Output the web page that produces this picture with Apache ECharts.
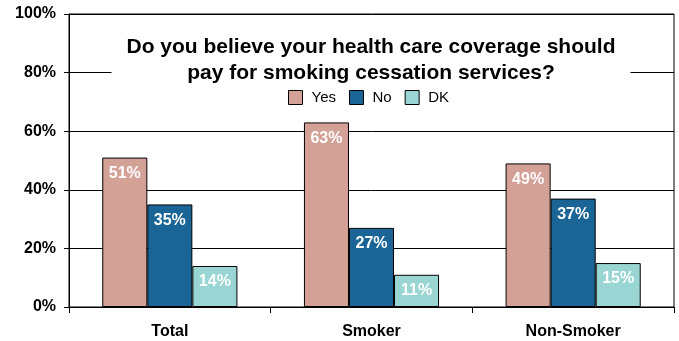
<!DOCTYPE html>
<html>
<head>
<meta charset="utf-8">
<script src="https://cdn.jsdelivr.net/npm/echarts@6/dist/echarts.min.js"></script>
<style>
  html, body { margin: 0; padding: 0; background: #fff; }
  #chart { width: 679px; height: 341px; }
</style>
</head>
<body>
<div id="chart"></div>
<script>
const categories = ['Total', 'Smoker', 'Non-Smoker'];
const yesValues = [51, 63, 49];
const noValues = [35, 27, 37];
const dkValues = [14, 11, 15];
const yTicks = [0, 20, 40, 60, 80, 100];

const fontFamily = '"Liberation Sans", Arial, sans-serif';

const chart = echarts.init(document.getElementById('chart'));

function barSeries(name, data, color) {
    return {
        name: name,
        type: 'bar',
        data: data,
        barGap: '0%',
        barCategoryGap: '33%',
        itemStyle: {
            color: color,
            borderColor: '#000',
            borderWidth: 1
        },
        label: {
            show: true,
            position: 'insideTop',
            distance: 8,
            formatter: '{c}%',
            color: '#fff',
            fontWeight: 'bold',
            fontSize: 16,
            fontFamily: fontFamily
        }
    };
}

chart.setOption({
    animation: false,
    textStyle: { fontFamily: fontFamily },
    title: {
        text: 'Do you believe your health care coverage should\npay for smoking cessation services?',
        left: 356,
        textAlign: 'center',
        top: 32,
        padding: [2, 15],
        backgroundColor: '#fff',
        textStyle: {
            fontSize: 21,
            fontWeight: 'bold',
            color: '#000',
            lineHeight: 26,
            fontFamily: fontFamily
        }
    },
    legend: {
        data: ['Yes', 'No', 'DK'],
        top: 90,
        left: 288,
        padding: 0,
        icon: 'rect',
        itemWidth: 14,
        itemHeight: 14,
        itemGap: 13,
        itemStyle: { borderColor: '#000', borderWidth: 1 },
        textStyle: { fontSize: 15, color: '#000', fontFamily: fontFamily, padding: [0, 0, 0, 4] }
    },
    grid: {
        left: 69,
        right: 5,
        top: 14,
        bottom: 34,
        show: true,
        borderColor: '#000',
        borderWidth: 1
    },
    xAxis: {
        type: 'category',
        data: categories,
        axisLine: { lineStyle: { color: '#000' } },
        axisTick: { show: true, length: 6, lineStyle: { color: '#000' } },
        axisLabel: {
            color: '#000',
            fontWeight: 'bold',
            fontSize: 16,
            margin: 17
        }
    },
    yAxis: {
        type: 'value',
        min: yTicks[0],
        max: yTicks[yTicks.length - 1],
        interval: 20,
        axisLine: { show: true, lineStyle: { color: '#000' } },
        axisTick: { show: true, length: 5, lineStyle: { color: '#000' } },
        splitLine: { lineStyle: { color: '#000' } },
        axisLabel: {
            formatter: '{value}%',
            color: '#000',
            fontWeight: 'bold',
            fontSize: 16,
            margin: 13
        }
    },
    series: [
        barSeries('Yes', yesValues, '#D4A197'),
        barSeries('No', noValues, '#1A6496'),
        barSeries('DK', dkValues, '#99D5D2')
    ]
});

window.addEventListener('resize', function() {
    chart.resize();
});
</script>
</body>
</html>
